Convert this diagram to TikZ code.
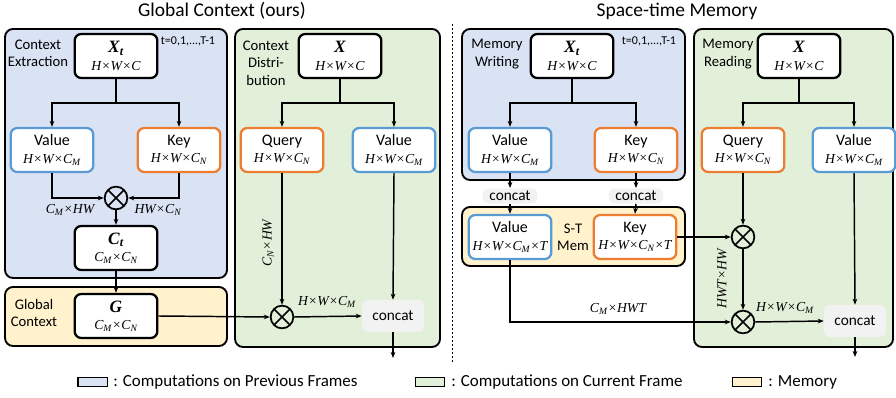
\documentclass[tikz,border=0pt]{standalone}
\usepackage{fontspec}
\setmainfont{Carlito}
\newfontfamily\tnr{Liberation Serif}
\usetikzlibrary{arrows.meta}
\definecolor{pblue}{HTML}{DAE3F3}
\definecolor{pgreen}{HTML}{E2F0D9}
\definecolor{pyellow}{HTML}{FFF2CC}
\definecolor{vblue}{HTML}{5B9BD5}
\definecolor{korange}{HTML}{ED7D31}
\definecolor{cgray}{HTML}{F2F2F2}
\newcommand{\dm}[1]{{\tnr\itshape\fontsize{10.3}{11.5}\selectfont #1}}
\newcommand{\bsym}[1]{{\tnr\bfseries\itshape\fontsize{13}{13.5}\selectfont #1}}
\newcommand{\sbs}[1]{\textsubscript{#1}}
\begin{document}
\begin{tikzpicture}[x=0.75pt,y=-0.75pt,
  cont/.style={draw=black,line width=1.4pt,rounded corners=6pt},
  nbox/.style={rectangle,rounded corners=5pt,fill=white,line width=1.7pt,minimum width=62pt,minimum height=33pt,align=center,inner sep=1pt,font=\fontsize{12}{13}\selectfont},
  xbox/.style={nbox,draw=black},
  vbox/.style={nbox,draw=vblue},
  kbox/.style={nbox,draw=korange},
  catbox/.style={rectangle,rounded corners=4pt,fill=cgray,inner sep=0pt,font=\fontsize{11.5}{12}\selectfont},
  otimes/.style={circle,draw,line width=1.3pt,minimum size=17pt,inner sep=0pt,
    path picture={\draw[line width=1.3pt] (path picture bounding box.north west) -- (path picture bounding box.south east) (path picture bounding box.north east) -- (path picture bounding box.south west);}},
  ln/.style={line width=1.1pt},
  arr/.style={line width=1.1pt,-{Stealth[length=4.5pt,width=3.5pt]}},
  clabel/.style={font=\fontsize{11}{13}\selectfont,align=center,inner sep=0pt},
  dlabel/.style={inner sep=0pt},
  tlabel/.style={inner sep=0pt,font=\fontsize{9}{10}\selectfont},
  swatch/.style={draw=black,line width=1pt,minimum width=22pt,minimum height=7pt,inner sep=0pt},
  legtext/.style={anchor=west,inner sep=0pt,font=\fontsize{12.7}{14}\selectfont},
  title/.style={font=\fontsize{14.6}{16}\selectfont,inner sep=0pt}
]
\useasboundingbox (0,0) rectangle (896,398);

% titles
\node[title] (t1) at (222,11) {Global Context (ours)};
\node[title] (t2) at (677,11) {Space-time Memory};
\draw[line width=0.6pt,dash pattern=on 1.5pt off 1.5pt] (452,24) -- (452,362);

% containers
\path[cont,fill=pblue] (5,29) rectangle (227,278);
\path[cont,fill=pyellow] (5,287) rectangle (227,346);
\path[cont,fill=pgreen] (235,29) rectangle (440,347);
\path[cont,fill=pblue] (462,29) rectangle (685,180);
\path[cont,fill=pyellow] (462,207) rectangle (685,266);
\path[cont,fill=pgreen] (694,29) rectangle (893,347);

% ---------------- left: context extraction
\node[clabel] (lce) at (38,53) {Context\\Extraction};
\node[tlabel] (tl) at (188,41) {t=0,1,...,T-1};
\node[xbox] (XtL) at (116,56) {\bsym{X\sbs{t}}\\\dm{H×W×C}};
\node[vbox] (ValL) at (52,150) {Value\\\dm{H×W×C\sbs{M}}};
\node[kbox] (KeyL) at (179,150) {Key\\\dm{H×W×C\sbs{N}}};
\node[otimes] (OtL) at (116,198) {};
\node[xbox] (CtL) at (116,248) {\bsym{C\sbs{t}}\\\dm{C\sbs{M}×C\sbs{N}}};
\node[clabel] (lgc) at (34,313) {Global\\Context};
\node[xbox] (GL) at (116,316) {\bsym{G}\\\dm{C\sbs{M}×C\sbs{N}}};
\coordinate (bL) at (116,103);
\draw[ln] (XtL.south) -- (bL);
\draw[arr] (bL) -| (ValL.north);
\draw[arr] (bL) -| (KeyL.north);
\draw[arr] (ValL.south) |- (OtL.west);
\draw[arr] (KeyL.south) |- (OtL.east);
\node[dlabel] (l1) at (70,210) {\dm{C\sbs{M}×HW}};
\node[dlabel] (l2) at (158,210) {\dm{HW×C\sbs{N}}};
\draw[arr] (OtL.south) -- (CtL.north);
\draw[arr] (CtL.south) -- (GL.north);

% ---------------- left: context distribution
\node[clabel] (lcd) at (266,63) {Context\\Distri-\\bution};
\node[xbox] (XL2) at (340,56) {\bsym{X}\\\dm{H×W×C}};
\node[kbox] (QL) at (282,150) {Query\\\dm{H×W×C\sbs{N}}};
\node[vbox] (VL2) at (394,150) {Value\\\dm{H×W×C\sbs{M}}};
\node[otimes] (OtL2) at (282,317) {};
\node[catbox,minimum width=46.5pt,minimum height=24pt] (CatL) at (393,316) {concat};
\coordinate (bL2) at (340,103);
\coordinate (outL) at (393,358);
\draw[ln] (XL2.south) -- (bL2);
\draw[arr] (bL2) -| (QL.north);
\draw[arr] (bL2) -| (VL2.north);
\draw[arr] (GL.east) -- (OtL2.west);
\draw[arr] (QL.south) -- (OtL2.north);
\node[dlabel,rotate=90] (l3) at (268,243) {\dm{C\sbs{N}×HW}};
\draw[arr] (VL2.south) -- (CatL.north);
\draw[arr] (OtL2.east) -- (CatL.west);
\node[dlabel] (l4) at (327,302) {\dm{H×W×C\sbs{M}}};
\draw[arr] (CatL.south) -- (outL);

% ---------------- right: memory writing
\node[clabel] (lmw) at (497,54) {Memory\\Writing};
\node[tlabel] (tr) at (649,41) {t=0,1,...,T-1};
\node[xbox] (XtR) at (572,56) {\bsym{X\sbs{t}}\\\dm{H×W×C}};
\node[vbox] (ValR) at (510,150) {Value\\\dm{H×W×C\sbs{M}}};
\node[kbox] (KeyR) at (636,150) {Key\\\dm{H×W×C\sbs{N}}};
\node[catbox,minimum width=41pt,minimum height=11.5pt] (cR1) at (510,196) {concat};
\node[catbox,minimum width=41pt,minimum height=11.5pt] (cR2) at (636,196) {concat};
\node[vbox] (STV) at (510,237) {Value\\\dm{H×W×C\sbs{M}×T}};
\node[kbox] (STK) at (635,237) {Key\\\dm{H×W×C\sbs{N}×T}};
\node[clabel] (lst) at (573,237) {S-T\\Mem};
\coordinate (bR) at (572,103);
\draw[ln] (XtR.south) -- (bR);
\draw[arr] (bR) -| (ValR.north);
\draw[arr] (bR) -| (KeyR.north);
\draw[arr] (ValR.south) -- (cR1.north);
\draw[arr] (KeyR.south) -- (cR2.north);
\draw[arr] (cR1.south) -- (STV.north);
\draw[arr] (cR2.south) -- (STK.north);

% ---------------- right: memory reading
\node[clabel] (lmr) at (728,54) {Memory\\Reading};
\node[xbox] (XR2) at (799,56) {\bsym{X}\\\dm{H×W×C}};
\node[kbox] (QR) at (743,150) {Query\\\dm{H×W×C\sbs{N}}};
\node[vbox] (VR2) at (854,150) {Value\\\dm{H×W×C\sbs{M}}};
\node[otimes] (Ot1) at (743,237) {};
\node[otimes] (Ot2) at (743,322) {};
\node[catbox,minimum width=46.5pt,minimum height=24pt] (CatR) at (855,321) {concat};
\coordinate (bR2) at (799,103);
\coordinate (outR) at (855,357);
\draw[ln] (XR2.south) -- (bR2);
\draw[arr] (bR2) -| (QR.north);
\draw[arr] (bR2) -| (VR2.north);
\draw[arr] (STK.east) -- (Ot1.west);
\draw[arr] (QR.south) -- (Ot1.north);
\draw[arr] (Ot1.south) -- (Ot2.north);
\node[dlabel,rotate=90] (l5) at (722,279) {\dm{HWT×HW}};
\draw[arr] (STV.south) |- (Ot2.west);
\node[dlabel] (l6) at (618,309) {\dm{C\sbs{M}×HWT}};
\draw[arr] (VR2.south) -- (CatR.north);
\draw[arr] (Ot2.east) -- (CatR.west);
\node[dlabel] (l7) at (785,308) {\dm{H×W×C\sbs{M}}};
\draw[arr] (CatR.south) -- (outR);

% ---------------- legend
\node[swatch,fill=pblue] (s1) at (92.5,382) {};
\node[legtext] (g1) at (113,382) {: Computations on Previous Frames};
\node[swatch,fill=pgreen] (s2) at (430,382) {};
\node[legtext] (g2) at (451,382) {: Computations on Current Frame};
\node[swatch,fill=pyellow] (s3) at (747,382) {};
\node[legtext] (g3) at (768,382) {: Memory};
\end{tikzpicture}
\end{document}
